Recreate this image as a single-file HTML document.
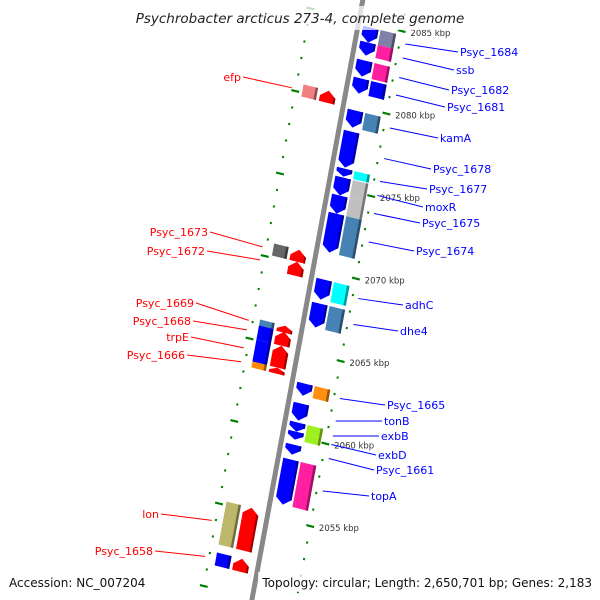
<!DOCTYPE html>
<html><head><meta charset="utf-8"><style>
html,body{margin:0;padding:0;background:#fff;overflow:hidden;width:600px;height:600px;}
svg{display:block;overflow:hidden;font-family:"DejaVu Sans","Liberation Sans",sans-serif;}
</style></head><body>
<svg id="map" width="600" height="600" viewBox="0 0 600 600" xmlns="http://www.w3.org/2000/svg">
<defs><clipPath id="frame"><rect x="0" y="0" width="600" height="600"/></clipPath></defs>
<g clip-path="url(#frame)">
<g id="ticks"></g>
<g id="backbone"></g>
<g id="genes"></g>
<g id="labels"></g>
</g>
<rect x="130" y="6" width="340" height="24" fill="#fff" opacity="0.75"/>
<text x="300" y="23" text-anchor="middle" font-size="13.5" font-style="italic" fill="#222">Psychrobacter arcticus 273-4, complete genome</text>
<rect x="4" y="572" width="144" height="20" fill="#fff" opacity="0.75"/>
<text x="9" y="587" font-size="12" fill="#111">Accession: NC_007204</text>
<rect x="258" y="572" width="338" height="20" fill="#fff" opacity="0.75"/>
<text x="592" y="587" text-anchor="end" font-size="12" fill="#111">Topology: circular; Length: 2,650,701 bp; Genes: 2,183</text>
</svg>
<script>
// gene data (kbp)
const geneNames = ["Psyc_1684","ssb","Psyc_1682","Psyc_1681","kamA","Psyc_1678","Psyc_1677","moxR","Psyc_1675","Psyc_1674","adhC","dhe4","Psyc_1665","tonB","exbB","exbD","Psyc_1661","topA",
 "efp","Psyc_1673","Psyc_1672","Psyc_1669","Psyc_1668","trpE","Psyc_1666","lon","Psyc_1658"];
const geneStart = [2084.76,2083.85,2082.76,2081.67,2079.73,2078.45,2076.21,2075.67,2074.58,2073.48,2069.48,2068.03,2063.18,2061.97,2060.82,2060.27,2059.48,2058.58,
 2080.50,2070.86,2070.13,2066.25,2065.89,2065.04,2063.71,2055.22,2052.13];
const geneEnd = [2083.85,2083.06,2081.79,2080.76,2078.70,2076.27,2075.73,2074.58,2073.48,2071.12,2068.27,2066.58,2062.45,2060.94,2060.27,2059.79,2058.88,2055.85,
 2079.77,2070.13,2069.29,2065.83,2065.04,2063.71,2063.35,2052.62,2051.35];
const geneStrand = [1,1,1,1,1,1,1,1,1,1,1,1,1,1,1,1,1,1,-1,-1,-1,-1,-1,-1,-1,-1,-1];
const geneCog = ["#8080a8","#ff1fa0","#ff1fa0","#0000ff","#4682b4",null,"#00ffff","#c0c0c0","#c0c0c0","#4682b4","#00ffff","#4682b4","#ff9010",null,"#a0f020","#a0f020",null,"#ff1fa0",
 "#f08080","#666666",null,"#4682b4","#0000ff","#0000ff","#ff8c00","#bdb76b","#0000ff"];
const tickMin = 2049, tickMax = 2087;

// layout of labels (screen positions)
const labelPos = [[460,52],[456,70],[451,90],[447,107],[440,138],[433,169],[429,189],[425,207],[422,223],[416,251],[405,305],[400,331],[387,405],[384,421],[381,436],[378,455],[376,470],[371,496],
 [241,77],[208,232],[205,251],[194,303],[191,321],[189,337],[185,355],[159,514],[153,551]];

const NS="http://www.w3.org/2000/svg";
function P(u,kbp){const v=2085-kbp;return [359+0.97*u-3.05*v, 20.5+0.24*u+16.5*v];}
function mk(tag,attrs,parent){const e=document.createElementNS(NS,tag);for(const k in attrs)e.setAttribute(k,attrs[k]);parent.appendChild(e);return e;}
function poly(pts){return pts.map(p=>P(p[0],p[1]).map(n=>n.toFixed(2)).join(",")).join(" ");}
function shade(c){const n=parseInt(c.slice(1),16);const r=(n>>16)*0.6|0,g=((n>>8)&255)*0.6|0,b=(n&255)*0.6|0;return "rgb("+r+","+g+","+b+")";}

// ticks
const tg=document.getElementById('ticks');
for(let k=tickMin;k<=tickMax;k++){
  const major=k%5===0;
  for(const u of [44,-50]){
    const a=P(u-(major?4:1),k), b=P(u+(major?4:1),k);
    const t=mk('line',{x1:a[0],y1:a[1],x2:b[0],y2:b[1],stroke:'#008000','stroke-width':2.2},tg);
    
    
  }
  if(major){
    const p=P(53,k);
    const tx=mk('text',{x:p[0],y:p[1]+3,'font-size':8.5,fill:'#333'},tg);
    tx.textContent=k+" kbp";
    
    
  }
}
// backbone
const bb=document.getElementById('backbone');
const b0=P(0,2088),b1=P(0,2048);
const bl=mk('line',{x1:b0[0],y1:b0[1],x2:b1[0],y2:b1[1],stroke:'#888','stroke-width':5},bb);



// genes
const gg=document.getElementById('genes'), lg=document.getElementById('labels');
for(let i=0;i<geneNames.length;i++){
  const s=geneStart[i], e=geneEnd[i], st=geneStrand[i];
  const g=mk('g',{},gg);
  
  
  const len=s-e, h=Math.min(0.38,len*0.55);
  let u0,u1,col;
  if(st>0){u0=5;u1=21;col='#0000ff';}else{u0=-25;u1=-9;col='#ff0000';}
  const um=(u0+u1)/2;
  let pts;
  if(st>0) pts=[[u0,s],[u1,s],[u1,e+h],[um,e],[u0,e+h]];
  else pts=[[um,s],[u1,s-h],[u1,e],[u0,e],[u0,s-h]];
  mk('polygon',{points:poly(pts),fill:col},g);
  const sp = st>0 ? [[u1-2,s],[u1,s],[u1,e+h],[u1-2,e+h*0.8]] : [[u1-2,s-h*0.8],[u1,s-h],[u1,e],[u1-2,e]];
  mk('polygon',{points:poly(sp),fill:shade(col)},g);
  if(geneCog[i]){
    let c0,c1; if(st>0){c0=23;c1=39;}else{c0=-43;c1=-28;}
    mk('polygon',{points:poly([[c0,s],[c1,s],[c1,e],[c0,e]]),fill:geneCog[i]},g);
    mk('polygon',{points:poly([[c1-2.5,s],[c1,s],[c1,e],[c1-2.5,e]]),fill:shade(geneCog[i])},g);
  }
  const mid=(s+e)/2, lp=labelPos[i];
  const a=P(st>0?50:-54,mid);
  const lc=st>0?'#0000ff':'#ff0000';
  const ln=mk('line',{x1:a[0],y1:a[1],x2:st>0?lp[0]-2:lp[0]+2,y2:lp[1],stroke:lc,'stroke-width':1},lg);
  
  
  const tx=mk('text',{x:lp[0],y:lp[1]+4,'font-size':11,fill:lc,'text-anchor':st>0?'start':'end'},lg);
  tx.textContent=geneNames[i];
  
  
}
</script>
</body></html>
